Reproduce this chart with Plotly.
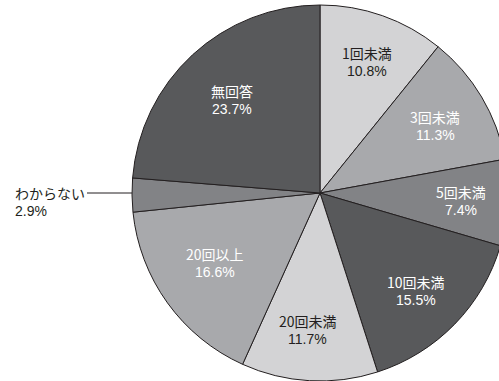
import math
import plotly.graph_objects as go

# Survey answer categories and their shares (%)
labels = ["1回未満", "3回未満", "5回未満", "10回未満", "20回未満", "20回以上", "わからない", "無回答"]
values = [10.8, 11.3, 7.4, 15.5, 11.7, 16.6, 2.9, 23.7]

# Slice fills and label colours
fills = ["#d3d3d5", "#a8a9ac", "#828386", "#58595b", "#d3d3d5", "#a8a9ac", "#828386", "#58595b"]
text_colors = ["#231f20", "#ffffff", "#ffffff", "#ffffff", "#231f20", "#ffffff", None, "#ffffff"]

# Label placement inside each slice: radial fraction and angular nudge (deg)
label_radius = [0.74, 0.71, 0.75, 0.73, 0.73, 0.67, None, 0.68]
label_nudge = [0.3, 0.6, 0.3, 1.2, 1.9, 1.9, 0.0, -0.7]

W, H = 510, 381
cx, cy, r = 320, 193, 188          # pie centre and radius in pixels
LINE = 18                          # line pitch of the two-line labels
NAME_FONT = "Noto Sans CJK JP, sans-serif"
PCT_FONT = "Liberation Sans, Arial, sans-serif"
FS = 14

fig = go.Figure(go.Pie(
    labels=labels,
    values=values,
    sort=False,
    direction="clockwise",
    rotation=0,
    marker=dict(colors=fills, line=dict(color="#231f20", width=1)),
    textinfo="none",
    hoverinfo="label+value",
    showlegend=False,
    domain=dict(x=[(cx - r) / W, (cx + r) / W], y=[(H - cy - r) / H, (H - cy + r) / H]),
))


def two_lines(px, py, first, second, color, anchor="center"):
    """Category name above its percentage, centred on (px, py) in pixels."""
    out = []
    for dy, txt, fam in ((-LINE / 2, first, NAME_FONT), (LINE / 2, second, PCT_FONT)):
        out.append(dict(
            x=px / W, y=1 - (py + dy) / H, xref="paper", yref="paper",
            text=txt, showarrow=False, borderpad=0,
            font=dict(family=fam, size=FS, color=color),
            xanchor=anchor, yanchor="middle",
        ))
    return out


total = sum(values)
cum = 0.0
annotations = []
for lab, val, col, f, nudge in zip(labels, values, text_colors, label_radius, label_nudge):
    mid = (cum + val / 2) / total * 360 + nudge
    cum += val
    if f is None:
        continue
    px = cx + f * r * math.sin(math.radians(mid))
    py = cy - f * r * math.cos(math.radians(mid))
    annotations += two_lines(px, py, lab, f"{val:.1f}%", col)

# The small slice is labelled outside with a leader line
small = labels.index("わからない")
annotations += two_lines(14, 202, labels[small], f"{values[small]:.1f}%", "#231f20", anchor="left")

fig.update_layout(
    width=W, height=H,
    margin=dict(l=0, r=0, t=0, b=0),
    paper_bgcolor="white", plot_bgcolor="white",
    annotations=annotations,
    shapes=[dict(type="line", xref="paper", yref="paper",
                 x0=87 / W, x1=(cx - r) / W, y0=1 - 193 / H, y1=1 - 193 / H,
                 line=dict(color="#231f20", width=1))],
)

fig.write_html(
    "out.html",
    post_script="document.documentElement.style.overflow='hidden';document.body.style.overflow='hidden';document.body.style.margin='0';",
)
